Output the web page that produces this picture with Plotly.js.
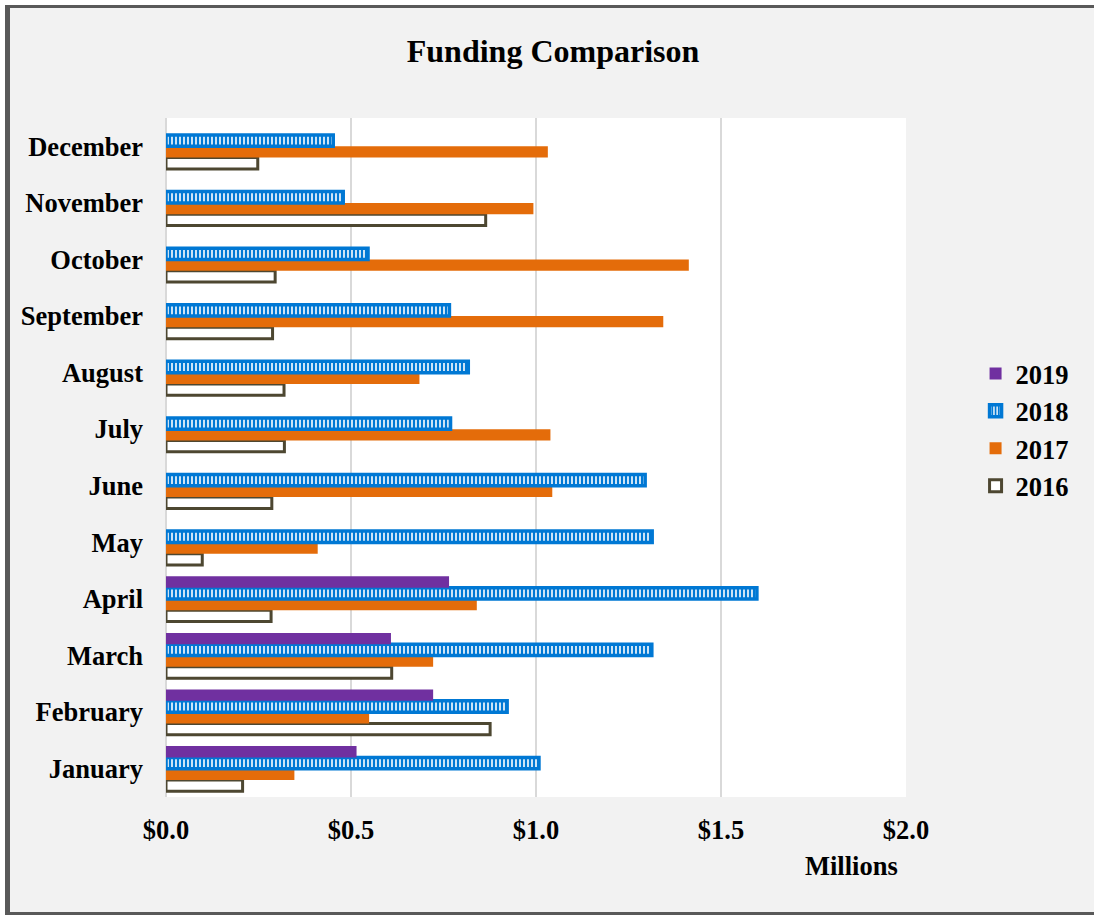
<!DOCTYPE html>
<html>
<head>
<meta charset="utf-8">
<script src="https://cdn.plot.ly/plotly-3.0.1.min.js"></script>
<style>
  html, body { margin: 0; padding: 0; background: #ffffff; overflow: hidden; }
  #frame { position: absolute; left: 5px; top: 5px; width: 1110px; height: 910px; box-sizing: border-box;
           border-left: 5px solid #595959; border-top: 3px solid #595959; border-bottom: 3px solid #595959;
           background: #f2f2f2; }
  #chart { position: absolute; left: 0; top: 0; width: 1094px; height: 915px; }
</style>
</head>
<body>
<div id="frame"></div>
<div id="chart"></div>
<script>
// Data (values in millions of dollars)
const months = ["January", "February", "March", "April", "May", "June",
                "July", "August", "September", "October", "November", "December"];
const v2019 = [0.515, 0.722, 0.608, 0.765, null, null, null, null, null, null, null, null];
const v2018 = [1.008, 0.922, 1.313, 1.597, 1.314, 1.295, 0.769, 0.817, 0.766, 0.546, 0.479, 0.452];
const v2017 = [0.347, 0.549, 0.722, 0.840, 0.410, 1.044, 1.039, 0.685, 1.344, 1.413, 0.993, 1.032];
const v2016 = [0.207, 0.876, 0.610, 0.284, 0.098, 0.286, 0.320, 0.319, 0.288, 0.295, 0.864, 0.248];
const seriesNames = ["2016", "2017", "2018", "2019"];
const xTicks = [0, 0.5, 1.0, 1.5, 2.0];
const xTickText = ["$0.0", "$0.5", "$1.0", "$1.5", "$2.0"];

const FONT = "Liberation Serif, Times New Roman, serif";
const FS = 26.5;

const traces = [
  { type: "bar", orientation: "h", name: seriesNames[0], y: months, x: v2016,
    marker: { color: "#ffffff", line: { color: "#4d4731", width: 3 } } },
  { type: "bar", orientation: "h", name: seriesNames[1], y: months, x: v2017,
    marker: { color: "#e46c0a", line: { width: 0 } } },
  { type: "bar", orientation: "h", name: seriesNames[2], y: months, x: v2018,
    marker: { color: "#0078d4", line: { color: "#0078d4", width: 3.5 },
              pattern: { shape: "|", fgcolor: "#ffffff", bgcolor: "#0078d4", size: 4, solidity: 0.4 } } },
  { type: "bar", orientation: "h", name: seriesNames[3], y: months, x: v2019,
    marker: { color: "#7030a0", line: { width: 0 } } }
];

const layout = {
  width: 1094, height: 915,
  margin: { l: 166, r: 188, t: 118, b: 118, pad: 0 },
  paper_bgcolor: "rgba(0,0,0,0)",
  plot_bgcolor: "#ffffff",
  barmode: "group",
  bargap: 0.2,
  bargroupgap: 0,
  font: { family: FONT, size: FS, color: "#000000", weight: "bold" },
  title: { text: "Funding Comparison", x: 0.5055, xanchor: "center", y: 0.945, yanchor: "middle",
           yref: "container", font: { family: FONT, size: 32, color: "#000000", weight: "bold" } },
  xaxis: {
    range: [0, 2], tickmode: "array", tickvals: xTicks, ticktext: xTickText,
    showgrid: true, gridcolor: "#d9d9d9", gridwidth: 2,
    zeroline: true, zerolinecolor: "#d9d9d9", zerolinewidth: 2,
    showline: false, ticks: "", ticklabelstandoff: 14,
    tickfont: { family: FONT, size: FS, color: "#000000", weight: "bold" },
    fixedrange: true
  },
  yaxis: {
    type: "category", showgrid: false, zeroline: false, showline: false, ticks: "",
    ticklabelstandoff: 22,
    tickfont: { family: FONT, size: FS, color: "#000000", weight: "bold" },
    fixedrange: true
  },
  legend: {
    x: 1.094, xanchor: "left", y: 0.541, yanchor: "middle",
    traceorder: "reversed", bgcolor: "rgba(0,0,0,0)", borderwidth: 0,
    itemwidth: 30, tracegroupgap: 0,
    font: { family: FONT, size: FS, color: "#000000", weight: "bold" }
  },
  annotations: [
    { text: "Millions", xref: "paper", yref: "paper", x: 0.927, y: -0.1016,
      xanchor: "center", yanchor: "middle", showarrow: false,
      font: { family: FONT, size: FS, color: "#000000", weight: "bold" } }
  ]
};

Plotly.newPlot("chart", traces, layout, { displayModeBar: false, staticPlot: true });
</script>
</body>
</html>
